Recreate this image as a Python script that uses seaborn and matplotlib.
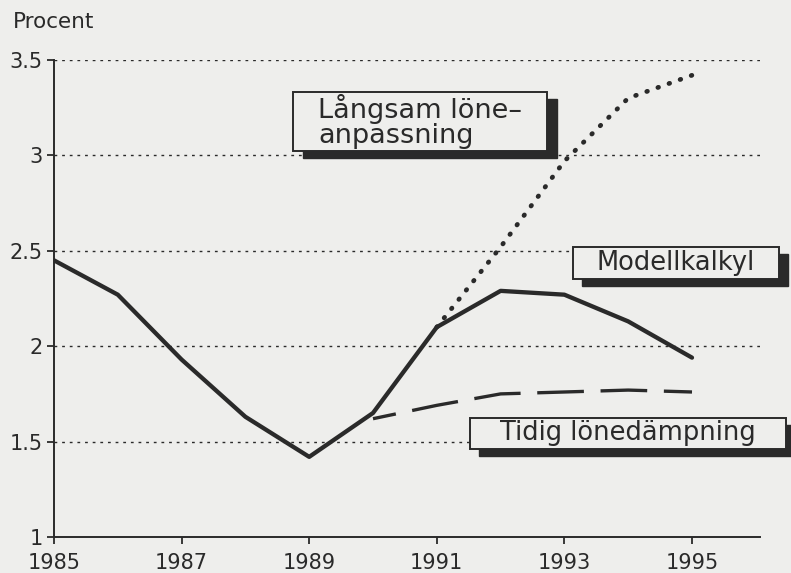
import matplotlib
matplotlib.use('Agg')
import matplotlib.pyplot as plt
import seaborn as sns
import pandas as pd
from matplotlib.patches import Rectangle

# ---- data ----
years_model = [1985, 1986, 1987, 1988, 1989, 1990, 1991, 1992, 1993, 1994, 1995]
model = [2.45, 2.27, 1.93, 1.63, 1.42, 1.65, 2.10, 2.29, 2.27, 2.13, 1.94]
years_early = [1990, 1991, 1992, 1993, 1994, 1995]
early = [1.62, 1.69, 1.75, 1.76, 1.77, 1.76]
years_slow = [1991, 1992, 1993, 1994, 1995]
slow = [2.10, 2.52, 2.97, 3.30, 3.42]

xticks = [1985, 1987, 1989, 1991, 1993, 1995]
yticks = [1, 1.5, 2, 2.5, 3, 3.5]
ytick_labels = ['1', '1.5', '2', '2.5', '3', '3.5']
label_slow = 'Långsam löne–\nanpassning'
label_model = 'Modellkalkyl'
label_early = 'Tidig lönedämpning'
ylabel = 'Procent'

sns.set_style('ticks')
plt.rcParams['font.family'] = ['DejaVu Sans']

bg = '#eeeeec'
ink = '#2a2a2a'

W, H = 791, 573
fig = plt.figure(figsize=(W / 100, H / 100), dpi=100, facecolor=bg)
L, R, T, B = 54, 760, 60, 537
ax = fig.add_axes([L / W, 1 - B / H, (R - L) / W, (B - T) / H])
ax.set_facecolor(bg)

df_m = pd.DataFrame({'year': years_model, 'v': model})
df_e = pd.DataFrame({'year': years_early, 'v': early})
df_s = pd.DataFrame({'year': years_slow, 'v': slow})

sns.lineplot(data=df_m, x='year', y='v', ax=ax, color=ink, linewidth=3.1,
             solid_joinstyle='round', solid_capstyle='round', errorbar=None, sort=False)
sns.lineplot(data=df_e, x='year', y='v', ax=ax, color=ink, linewidth=2.4,
             linestyle=(7, (14, 5)), dash_capstyle='butt', errorbar=None, sort=False)
sns.lineplot(data=df_s, x='year', y='v', ax=ax, color=ink, linewidth=3.4,
             linestyle=(0, (0.15, 2.35)), dash_capstyle='round', errorbar=None, sort=False)

ax.set_xlim(1985, 1985 + (R - L) / 63.8)
ax.set_ylim(1, 3.5)
ax.set_xticks(xticks)
ax.set_xticklabels([str(x) for x in xticks], fontsize=15, color=ink)
ax.set_yticks(yticks)
ax.set_yticklabels(ytick_labels, fontsize=15, color=ink)
ax.set_xlabel('')
ax.set_ylabel('')
ax.tick_params(axis='both', direction='out', length=5, width=1.3, color=ink, pad=3)
ax.tick_params(axis='x', pad=6.5)
for s in ['top', 'right']:
    ax.spines[s].set_visible(False)
for s in ['left', 'bottom']:
    ax.spines[s].set_color(ink)
    ax.spines[s].set_linewidth(1.4)

for yv in yticks[1:]:
    ax.axhline(yv, color=ink, linewidth=1.0, linestyle=(0, (2, 3.5)), zorder=0.5)

fig.text(13 / W, 1 - 22 / H, ylabel, fontsize=15.5, color=ink, va='center', ha='left')


def box(px0, py0, px1, py1, text, fs, dx=9, dy=7, ls=1.0):
    def fx(p):
        return (p - L) / (R - L)

    def fy(p):
        return (B - p) / (B - T)
    sh = Rectangle((fx(px0 + dx), fy(py1 + dy)), fx(px1 + dx) - fx(px0 + dx),
                   fy(py0 + dy) - fy(py1 + dy), transform=ax.transAxes,
                   facecolor=ink, edgecolor=ink, clip_on=False, zorder=4)
    fr = Rectangle((fx(px0), fy(py1)), fx(px1) - fx(px0), fy(py0) - fy(py1),
                   transform=ax.transAxes, facecolor=bg, edgecolor=ink,
                   linewidth=1.4, clip_on=False, zorder=5)
    ax.add_patch(sh)
    ax.add_patch(fr)
    ax.text(fx((px0 + px1) / 2), fy((py0 + py1) / 2), text, transform=ax.transAxes,
            fontsize=fs, color=ink, ha='center', va='center', multialignment='left',
            zorder=6, linespacing=ls)


box(293, 92, 547, 151, label_slow, 19.5, dx=10, dy=7, ls=0.92)
box(573, 247, 779, 279, label_model, 18.5, dx=9, dy=7)
box(470, 418, 786, 449, label_early, 18.5, dx=9, dy=7)

fig.savefig('out.png', dpi=100, facecolor=bg)
